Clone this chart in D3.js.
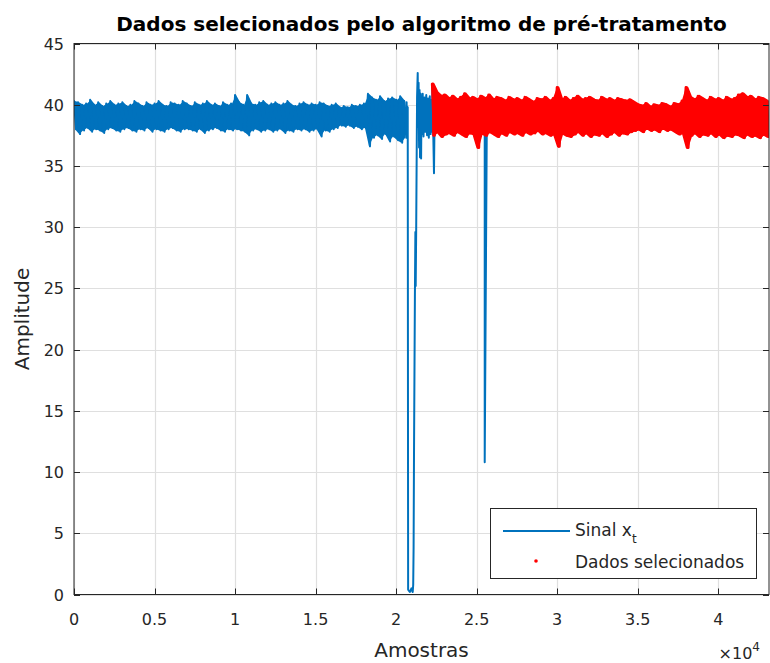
<!DOCTYPE html>
<html>
<head>
<meta charset="utf-8">
<script src="https://cdn.jsdelivr.net/npm/d3@7"></script>
<style>
  html, body { margin: 0; padding: 0; background: #fff; }
  svg { display: block; }
  text { font-family: "DejaVu Sans", "Liberation Sans", sans-serif; fill: #262626; }
</style>
</head>
<body>
<svg id="chart" width="770" height="663"></svg>
<script>
// ---- Data ----------------------------------------------------------------
// Signal envelope, stored per block of samples: the max and min reached
// inside each block (block = 250 samples).
const binSize = 250;

// Blocks 0..82 (samples 0 .. 20 750) before the disturbance
const preHi = [
  40.3, 40.2, 40.0, 40.1, 40.4, 40.0, 40.2, 39.9, 40.1, 40.3,
  40.0, 40.1, 40.2, 39.9, 40.0, 40.3, 40.1, 39.9, 40.2, 40.0,
  40.1, 40.3, 40.0, 39.9, 40.2, 40.1, 40.0, 40.3, 40.1, 39.9,
  40.2, 40.0, 40.1, 40.3, 40.0, 40.1, 39.9, 40.2, 40.0, 40.1,
  40.8, 40.2, 40.0, 40.8, 40.1, 40.0, 40.2, 40.3, 40.0, 40.1,
  40.2, 40.0, 40.1, 40.3, 40.0, 39.9, 40.1, 40.2, 40.0, 40.1,
  40.0, 40.2, 40.1, 39.9, 40.0, 40.1, 39.8, 39.9, 39.8, 40.0,
  39.9, 40.0, 40.1, 40.9, 40.6, 40.4, 40.7, 40.3, 40.5, 40.6,
  40.4, 40.7, 40.3
];
const preLo = [
  38.0, 37.6, 37.9, 38.1, 37.8, 38.0, 37.9, 37.7, 38.0, 38.1,
  37.9, 37.8, 38.0, 38.1, 37.9, 37.8, 38.0, 37.9, 38.1, 37.8,
  38.0, 37.9, 37.8, 38.0, 38.1, 37.9, 37.8, 38.0, 38.0, 37.9,
  37.8, 38.0, 37.7, 37.9, 38.0, 38.1, 37.9, 37.8, 38.0, 37.9,
  38.0, 37.9, 37.8, 37.5, 37.9, 38.0, 37.8, 37.9, 38.0, 37.8,
  37.9, 38.0, 37.7, 37.9, 37.8, 38.0, 37.9, 38.0, 37.8, 37.9,
  38.0, 37.4, 37.9, 37.8, 38.0, 38.1, 38.3, 38.2, 38.3, 38.1,
  38.2, 38.0, 38.1, 36.6, 37.3, 37.5, 37.2, 37.6, 37.0, 37.4,
  37.1, 36.9, 37.3
];

// Disturbance: individual samples (index, amplitude)
const dipX = [20650, 20690, 20720, 20745, 20850, 20950, 21030, 21060, 21085, 21110,
              21165, 21195, 21215, 21245, 21300, 21340, 21365, 21395, 21425, 21455,
              21485, 21520, 21550, 21580, 21615, 21650, 21700, 21760, 21810, 21870,
              21920, 21980, 22030, 22090, 22140, 22190, 22230];
const dipY = [40.2, 37.4, 39.8, 0.4, 0.2, 0.5, 0.2, 0.8, 3.9, 11.6,
              24.3, 29.6, 25.2, 29.8, 40.6, 42.6, 38.2, 41.8, 36.5, 41.2,
              35.7, 40.9, 35.6, 40.7, 37.6, 40.9, 37.4, 40.6, 37.8, 40.8,
              37.5, 40.5, 37.3, 40.7, 37.6, 40.4, 37.8];

// Blocks from sample 22 250 to the end (these are the selected data)
const postStart = 22250;
const postHi = [
  41.7, 41.0, 40.7, 40.8, 40.5, 40.7, 40.4, 40.6, 40.9, 40.5,
  40.6, 40.4, 40.7, 40.5, 40.8, 40.4, 40.6, 40.5, 40.3, 40.6,
  40.4, 40.5, 40.3, 40.6, 40.4, 40.2, 40.5, 40.4, 40.6, 40.3,
  40.5, 41.4, 40.4, 40.6, 40.3, 40.5, 40.7, 40.4, 40.5, 40.6,
  40.4, 40.3, 40.6, 40.4, 40.5, 40.3, 40.5, 40.4, 40.3, 40.4,
  40.2, 40.0, 39.9, 40.1, 39.8, 40.0, 39.9, 40.1, 40.0, 39.8,
  40.1, 40.0, 40.3, 41.4, 40.6, 40.4, 40.7, 40.5, 40.3, 40.6,
  40.4, 40.5, 40.3, 40.6, 40.4, 40.5, 40.8, 40.9, 40.6, 40.7,
  40.4, 40.6, 40.5, 40.3
];
const postLo = [
  37.5, 37.8, 37.4, 37.6, 37.7, 37.5, 37.8, 37.6, 37.4, 37.7,
  37.6, 36.5, 37.7, 37.5, 37.8, 37.6, 37.4, 37.7, 37.5, 37.8,
  37.6, 37.7, 37.5, 37.8, 37.6, 37.7, 37.9, 37.6, 37.7, 37.5,
  37.6, 36.6, 37.7, 37.5, 37.4, 37.6, 37.8, 37.5, 37.7, 37.4,
  37.6, 37.5, 37.7, 37.4, 37.6, 37.8, 37.5, 37.7, 37.6, 37.8,
  37.9, 38.0, 37.8, 38.1, 37.9, 38.0, 37.8, 38.1, 37.9, 38.0,
  37.8, 37.6, 37.7, 36.5, 37.5, 37.7, 37.4, 37.6, 37.5, 37.7,
  37.4, 37.6, 37.3, 37.5, 37.4, 37.6, 37.5, 37.3, 37.6, 37.4,
  37.5, 37.3, 37.6, 37.4
];

// Outlier samples rejected by the pre-treatment (only in the raw signal)
const outlierX = [22350, 25500];
const outlierY = [34.4, 10.8];

// Axes
const xMax = 43150;
const xTickValues = [0, 5000, 10000, 15000, 20000, 25000, 30000, 35000, 40000];
const xTickLabels = ["0", "0.5", "1", "1.5", "2", "2.5", "3", "3.5", "4"];
const yTickValues = [0, 5, 10, 15, 20, 25, 30, 35, 40, 45];

const titleText = "Dados selecionados pelo algoritmo de pré-tratamento";
const xLabel = "Amostras";
const yLabel = "Amplitude";
const legendLabels = ["Sinal x", "Dados selecionados"];

// ---- Build point sequences ----------------------------------------------
function blocksToPoints(hi, lo, start) {
  const pts = [];
  hi.forEach((h, i) => {
    const s = start + i * binSize;
    pts.push([s, h]);
    pts.push([s + binSize / 2, lo[i]]);
  });
  return pts;
}
function blocksToBands(hi, lo, start) {
  return hi.map((h, i) => ({ s: start + i * binSize + binSize / 4, hi: h, lo: lo[i] }));
}

const prePts = blocksToPoints(preHi, preLo, 0);
const dipPts = dipX.map((s, i) => [s, dipY[i]]);
const selectedPts = blocksToPoints(postHi, postLo, postStart);
const outlierPts = outlierX.map((s, i) => [s, outlierY[i]]);
const signalPts = prePts.concat(dipPts,
  selectedPts.concat(outlierPts).sort((a, b) => a[0] - b[0]));

const preBand = blocksToBands(preHi, preLo, 0);
const postBand = blocksToBands(postHi, postLo, postStart);

// ---- Layout ----------------------------------------------------------------
const L = 74, R = 769, T = 43.5, B = 594.5;
const svg = d3.select("#chart");

const x = d3.scaleLinear().domain([0, xMax]).range([L, R]);
const y = d3.scaleLinear().domain([0, 45]).range([B, T]);

const axisColor = "#262626";
const gridColor = "#dfdfdf";
const blue = "#0072BD";
const red = "#FF0000";

// Grid
const grid = svg.append("g");
grid.selectAll("line.gx").data(xTickValues).join("line")
  .attr("x1", d => Math.round(x(d)) + 0.5).attr("x2", d => Math.round(x(d)) + 0.5)
  .attr("y1", T).attr("y2", B)
  .attr("stroke", gridColor).attr("stroke-width", 1.2);
grid.selectAll("line.gy").data(yTickValues).join("line")
  .attr("y1", d => Math.round(y(d)) + 0.5).attr("y2", d => Math.round(y(d)) + 0.5)
  .attr("x1", L).attr("x2", R)
  .attr("stroke", gridColor).attr("stroke-width", 1);

// Data
svg.append("clipPath").attr("id", "plotclip")
  .append("rect").attr("x", L).attr("y", T - 1).attr("width", R - L).attr("height", B - T + 1);

const line = d3.line().x(d => x(d[0])).y(d => y(d[1]));
const band = d3.area().x(d => x(d.s)).y0(d => y(d.lo)).y1(d => y(d.hi));
const plot = svg.append("g").attr("clip-path", "url(#plotclip)");

// raw signal: dense envelope of each block plus the line through its extremes
plot.append("path").datum(preBand).attr("d", band).attr("fill", blue);
plot.append("path").datum(postBand).attr("d", band).attr("fill", blue);
plot.append("path").datum(signalPts)
  .attr("d", line)
  .attr("fill", "none")
  .attr("stroke", blue)
  .attr("stroke-width", 2)
  .attr("stroke-linejoin", "round")
  .attr("stroke-linecap", "round");

// selected samples (dense dots)
plot.append("path").datum(postBand).attr("d", band)
  .attr("fill", red).attr("stroke", red).attr("stroke-width", 2.5)
  .attr("stroke-linejoin", "round");
plot.append("path").datum(selectedPts)
  .attr("d", line)
  .attr("fill", "none")
  .attr("stroke", red)
  .attr("stroke-width", 3)
  .attr("stroke-linejoin", "round")
  .attr("stroke-linecap", "round");

// Axes box with inward ticks
const axes = svg.append("g");
axes.append("rect")
  .attr("x", L).attr("y", T).attr("width", R - L).attr("height", B - T)
  .attr("fill", "none").attr("stroke", axisColor).attr("stroke-width", 1);

const tickLen = 6;
xTickValues.forEach(v => {
  const px = Math.round(x(v)) + 0.5;
  axes.append("line").attr("x1", px).attr("x2", px).attr("y1", B).attr("y2", B - tickLen)
    .attr("stroke", axisColor);
  axes.append("line").attr("x1", px).attr("x2", px).attr("y1", T).attr("y2", T + tickLen)
    .attr("stroke", axisColor);
});
yTickValues.forEach(v => {
  const py = Math.round(y(v)) + 0.5;
  axes.append("line").attr("y1", py).attr("y2", py).attr("x1", L).attr("x2", L + tickLen)
    .attr("stroke", axisColor);
  axes.append("line").attr("y1", py).attr("y2", py).attr("x1", R).attr("x2", R - tickLen)
    .attr("stroke", axisColor);
});

// Tick labels
axes.selectAll("text.xt").data(xTickValues).join("text")
  .attr("x", d => x(d)).attr("y", 625)
  .attr("text-anchor", "middle").attr("font-size", 16)
  .text((d, i) => xTickLabels[i]);
axes.selectAll("text.yt").data(yTickValues).join("text")
  .attr("x", 64).attr("y", d => y(d) + 6)
  .attr("text-anchor", "end").attr("font-size", 16)
  .text(d => d);

// Exponent label
const expo = axes.append("text").attr("x", 760).attr("y", 659)
  .attr("text-anchor", "end").attr("font-size", 16);
expo.append("tspan").text("\u00d710");
expo.append("tspan").attr("dy", -8).attr("font-size", 12).text("4");

// Axis labels
svg.append("text").attr("x", (L + R) / 2).attr("y", 657)
  .attr("text-anchor", "middle").attr("font-size", 20).text(xLabel);
svg.append("text")
  .attr("transform", `translate(29,${(T + B) / 2}) rotate(-90)`)
  .attr("text-anchor", "middle").attr("font-size", 20).text(yLabel);

// Title
svg.append("text").attr("x", (L + R) / 2).attr("y", 31)
  .attr("text-anchor", "middle").attr("font-size", 20)
  .attr("font-weight", "bold").style("fill", "#000").text(titleText);

// Legend
const lg = svg.append("g");
lg.append("rect").attr("x", 490.5).attr("y", 508.5).attr("width", 266).attr("height", 70)
  .attr("fill", "#fff").attr("stroke", axisColor).attr("stroke-width", 1);
lg.append("line").attr("x1", 503).attr("x2", 570).attr("y1", 531).attr("y2", 531)
  .attr("stroke", blue).attr("stroke-width", 2.2);
const t1 = lg.append("text").attr("x", 575).attr("y", 536).attr("font-size", 17);
t1.append("tspan").text(legendLabels[0]);
t1.append("tspan").attr("dy", 7).attr("font-size", 12).text("t");
lg.append("circle").attr("cx", 536).attr("cy", 561).attr("r", 1.8).attr("fill", red);
lg.append("text").attr("x", 575).attr("y", 568).attr("font-size", 17).text(legendLabels[1]);
</script>
</body>
</html>
